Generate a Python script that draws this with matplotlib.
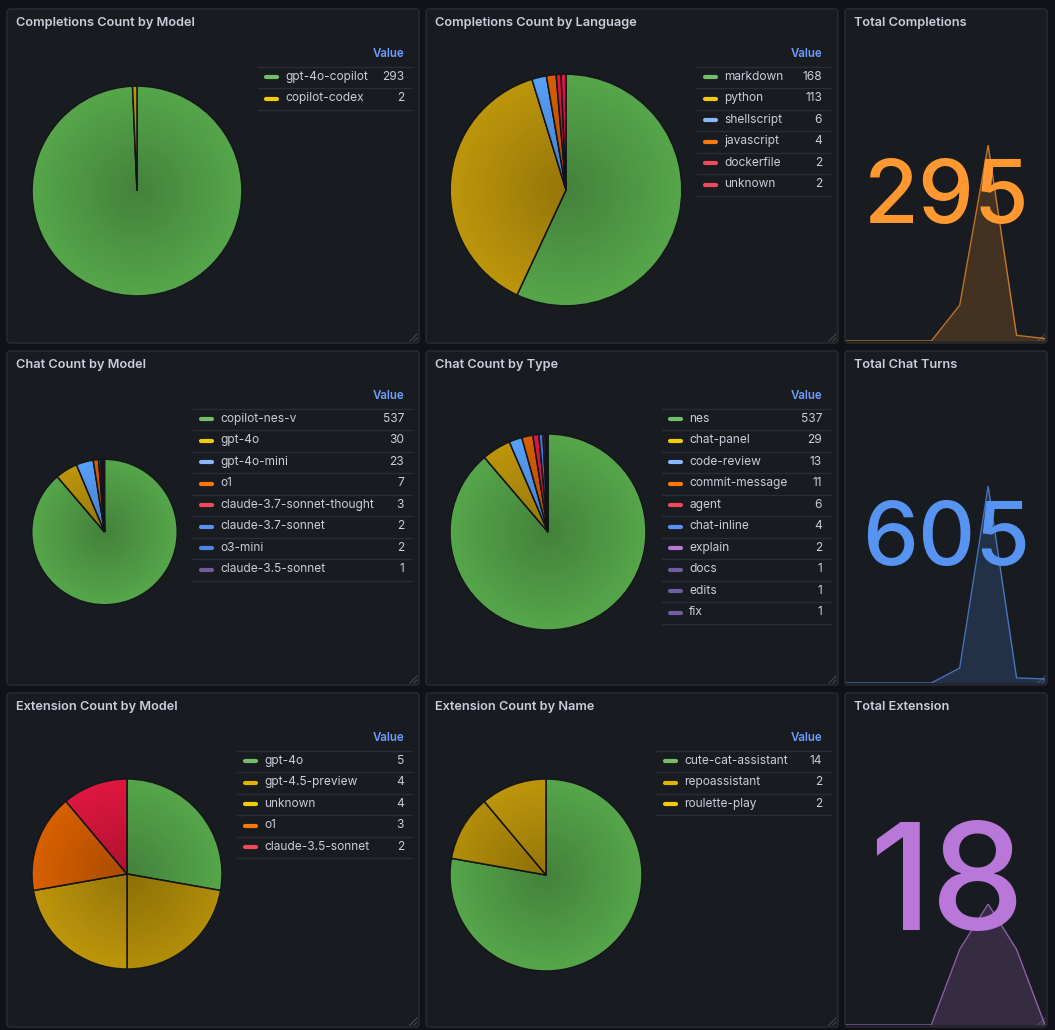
import matplotlib.pyplot as plt
import numpy as np
from matplotlib.patches import FancyBboxPatch, Circle

plt.rcParams['font.family'] = ['Inter', 'DejaVu Sans']

W, H = 1055, 1030
BG = '#111217'
PANEL = '#181b1f'
BORDER = '#2a2d33'
TEXT = '#ccccdc'

# ---- data ----
completions_model_labels = ['gpt-4o-copilot', 'copilot-codex']
completions_model_values = [293, 2]

completions_lang_labels = ['markdown', 'python', 'shellscript', 'javascript', 'dockerfile', 'unknown']
completions_lang_values = [168, 113, 6, 4, 2, 2]

chat_model_labels = ['copilot-nes-v', 'gpt-4o', 'gpt-4o-mini', 'o1', 'claude-3.7-sonnet-thought',
                     'claude-3.7-sonnet', 'o3-mini', 'claude-3.5-sonnet']
chat_model_values = [537, 30, 23, 7, 3, 2, 2, 1]

chat_type_labels = ['nes', 'chat-panel', 'code-review', 'commit-message', 'agent', 'chat-inline',
                    'explain', 'docs', 'edits', 'fix']
chat_type_values = [537, 29, 13, 11, 6, 4, 2, 1, 1, 1]

ext_model_labels = ['gpt-4o', 'gpt-4.5-preview', 'unknown', 'o1', 'claude-3.5-sonnet']
ext_model_values = [5, 4, 4, 3, 2]

ext_name_labels = ['cute-cat-assistant', 'repoassistant', 'roulette-play']
ext_name_values = [14, 2, 2]

total_completions = 295
total_chat_turns = 605
total_extension = 18

completions_trend = [0, 0, 0, 0, 44, 241, 7, 3]
chat_trend = [0, 0, 0, 0, 41, 539, 14, 11]
extension_trend = [0, 0, 0, 0, 5, 8, 5, 0]

# ---- palette (legend colour, pie colour) ----
PAL = {
    'green': ('#73BF69', '#56A64B'),
    'yellow': ('#F2CC0C', '#BE960C'),
    'yellow2': ('#E0B400', '#B38E0A'),
    'lblue': ('#8AB8FF', '#58A0FA'),
    'orange': ('#FF780A', '#D86000'),
    'red': ('#F2495C', '#E0173F'),
    'blue': ('#5794F2', '#3D7FE0'),
    'blue2': ('#4A86E8', '#3274D9'),
    'lpurple': ('#B877D9', '#A352CC'),
    'purple': ('#705DA0', '#5A4A8C'),
}

fig = plt.figure(figsize=(W / 100, H / 100), dpi=100, facecolor=BG)
bg = fig.add_axes([0, 0, 1, 1])
bg.set_xlim(0, W)
bg.set_ylim(H, 0)
bg.axis('off')


def px_axes(x0, y0, w, h):
    return fig.add_axes([x0 / W, 1 - (y0 + h) / H, w / W, h / H])


def panel(x0, y0, x1, y1, title):
    bg.add_patch(FancyBboxPatch((x0, y0), x1 - x0, y1 - y0,
                                boxstyle='round,pad=0,rounding_size=3',
                                facecolor=PANEL, edgecolor=BORDER, lw=1))
    bg.text(x0 + 9, y0 + 14, title, color=TEXT, fontsize=9.2, weight='semibold',
            va='center', ha='left')
    # resize handle
    for d in (4, 8):
        bg.plot([x1 - d - 1, x1 - 2], [y1 - 2, y1 - d - 1], color='#44474e', lw=0.8)


def legend(left, right, top, labels, values, cols):
    bg.text(right - 8, top + 45, 'Value', color='#6E9FFF', fontsize=8.3,
            weight='semibold', ha='right', va='center')
    step = 21.5
    y0 = top + 57.5
    for i in range(len(labels) + 1):
        bg.plot([left, right], [y0 + i * step] * 2, color='#2a2d33', lw=1)
    for i, (lab, val, c) in enumerate(zip(labels, values, cols)):
        yc = y0 + i * step + 10.3
        bg.plot([left + 8, left + 19], [yc + 0.5] * 2, color=PAL[c][0], lw=3,
                solid_capstyle='round')
        bg.text(left + 27, yc, lab, color=TEXT, fontsize=8.6, va='center', ha='left')
        bg.text(right - 8, yc, str(val), color=TEXT, fontsize=8.6, va='center', ha='right')


def pie(cx, cy, r, values, cols):
    ax = px_axes(cx - r, cy - r, 2 * r, 2 * r)
    ax.pie(values, colors=[PAL[c][1] for c in cols], startangle=90, counterclock=False,
           radius=0.99, wedgeprops=dict(edgecolor='#15171a', linewidth=1.1))
    n = 300
    yy, xx = np.mgrid[-1:1:n * 1j, -1:1:n * 1j]
    rr = np.hypot(xx, yy)
    shade = np.zeros((n, n, 4))
    shade[..., 3] = 0.22 * np.clip(1 - rr, 0, 1)
    im = ax.imshow(shade, extent=(-1, 1, -1, 1), zorder=5)
    im.set_clip_path(Circle((0, 0), 0.99, transform=ax.transData))
    ax.set_xlim(-1, 1)
    ax.set_ylim(-1, 1)
    ax.axis('off')


def stat(x0, y0, x1, y1, title, value, trend, color, fsize, base_y, spark_h):
    panel(x0, y0, x1, y1, title)
    bg.text((x0 + x1) / 2 + 0.5, base_y, str(value), color=color, fontsize=fsize,
            weight='medium', ha='center', va='baseline')
    ax = px_axes(x0 + 1, y1 - 2 - spark_h, x1 - x0 - 3, spark_h)
    xs = np.arange(len(trend))
    ax.fill_between(xs, trend, 0, color=color, alpha=0.19, lw=0)
    ax.plot(xs, trend, color=color, alpha=0.7, lw=1)
    ax.set_xlim(0, len(trend) - 1)
    ax.set_ylim(0, max(trend))
    ax.patch.set_alpha(0)
    ax.axis('off')


rows = [(9, 343), (351, 685), (693, 1027)]
c1, c2, c3 = (7, 419), (426, 838), (845, 1047)

# Row 1
t, b = rows[0]
panel(c1[0], t, c1[1], b, 'Completions Count by Model')
cols = ['green', 'yellow']
pie(137, 191, 106, completions_model_values, cols)
legend(258, 412, t, completions_model_labels, completions_model_values, cols)

panel(c2[0], t, c2[1], b, 'Completions Count by Language')
cols = ['green', 'yellow', 'lblue', 'orange', 'red', 'red']
pie(566, 190, 117, completions_lang_values, cols)
legend(697, 830, t, completions_lang_labels, completions_lang_values, cols)

stat(c3[0], t, c3[1], b, 'Total Completions', total_completions, completions_trend,
     '#FF9830', 64, 223, 196)

# Row 2
t, b = rows[1]
panel(c1[0], t, c1[1], b, 'Chat Count by Model')
cols = ['green', 'yellow', 'lblue', 'orange', 'red', 'blue', 'blue2', 'purple']
pie(104.5, 532, 73.5, chat_model_values, cols)
legend(193, 412, t, chat_model_labels, chat_model_values, cols)

panel(c2[0], t, c2[1], b, 'Chat Count by Type')
cols = ['green', 'yellow', 'lblue', 'orange', 'red', 'blue', 'lpurple', 'purple', 'purple', 'purple']
pie(548, 532, 99, chat_type_values, cols)
legend(662, 830, t, chat_type_labels, chat_type_values, cols)

stat(c3[0], t, c3[1], b, 'Total Chat Turns', total_chat_turns, chat_trend,
     '#5794F2', 64, 565, 197)

# Row 3
t, b = rows[2]
panel(c1[0], t, c1[1], b, 'Extension Count by Model')
cols = ['green', 'yellow2', 'yellow', 'orange', 'red']
pie(127, 874, 96, ext_model_values, cols)
legend(237, 412, t, ext_model_labels, ext_model_values, cols)

panel(c2[0], t, c2[1], b, 'Extension Count by Name')
cols = ['green', 'yellow2', 'yellow']
pie(546, 875, 97, ext_name_values, cols)
legend(657, 830, t, ext_name_labels, ext_name_values, cols)

stat(c3[0], t, c3[1], b, 'Total Extension', total_extension, extension_trend,
     '#B877D9', 107, 930, 121)

fig.savefig('out.png', dpi=100, facecolor=BG)
